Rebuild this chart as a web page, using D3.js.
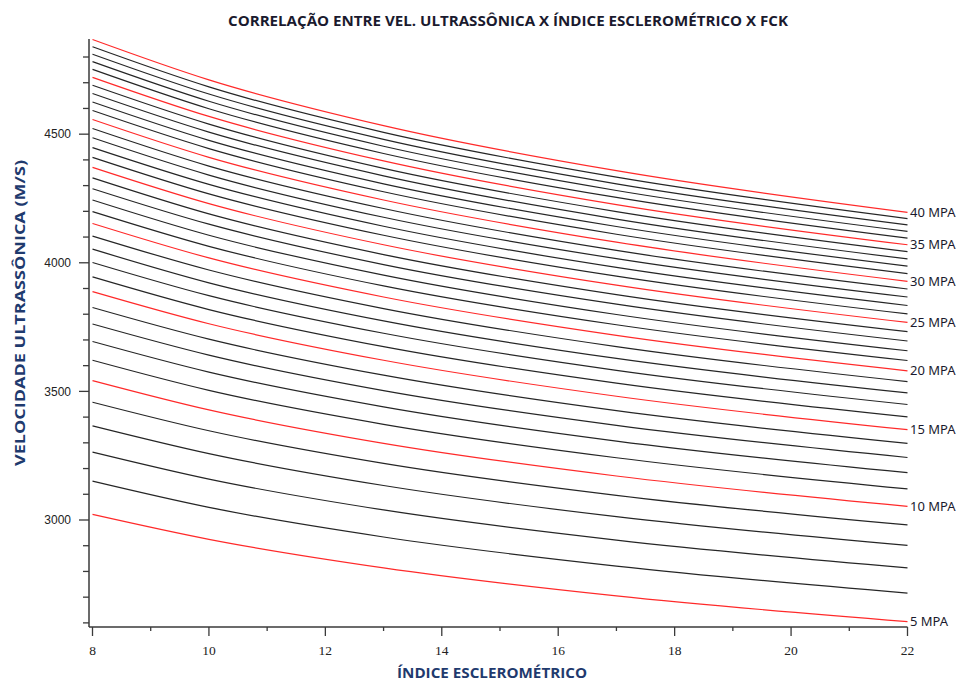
<!DOCTYPE html>
<html>
<head>
<meta charset="utf-8">
<script src="https://cdn.jsdelivr.net/npm/d3@7"></script>
<style>
  body { margin: 0; background: #fff; }
  svg { display: block; }
</style>
</head>
<body>
<div id="chart"></div>
<script>
// fck (MPa) de cada curva
const fck = [5, 6, 7, 8, 9, 10, 11, 12, 13, 14, 15, 16, 17, 18, 19, 20, 21, 22,
             23, 24, 25, 26, 27, 28, 29, 30, 31, 32, 33, 34, 35, 36, 37, 38, 39, 40];

// indice esclerometrico onde as velocidades foram lidas
const indice = [8, 10, 13, 17, 22];

// velocidade ultrassonica (m/s), uma linha por fck, uma coluna por indice
const velocidade = [
  [3022, 2925, 2814, 2705, 2605],
  [3151, 3049, 2934, 2821, 2716],
  [3264, 3159, 3039, 2922, 2814],
  [3366, 3258, 3134, 3013, 2901],
  [3458, 3347, 3220, 3096, 2981],
  [3542, 3428, 3298, 3171, 3053],
  [3621, 3504, 3372, 3242, 3121],
  [3694, 3575, 3440, 3307, 3184],
  [3762, 3641, 3503, 3368, 3243],
  [3826, 3703, 3563, 3425, 3298],
  [3888, 3763, 3621, 3481, 3351],
  [3945, 3818, 3674, 3532, 3401],
  [4001, 3872, 3726, 3582, 3449],
  [4053, 3922, 3774, 3628, 3494],
  [4104, 3972, 3822, 3674, 3538],
  [4153, 4019, 3867, 3718, 3580],
  [4199, 4064, 3910, 3759, 3620],
  [4244, 4107, 3952, 3799, 3658],
  [4288, 4150, 3993, 3839, 3696],
  [4330, 4190, 4032, 3876, 3732],
  [4371, 4230, 4070, 3913, 3768],
  [4410, 4268, 4107, 3948, 3801],
  [4448, 4305, 4142, 3982, 3834],
  [4486, 4341, 4177, 4016, 3867],
  [4522, 4376, 4211, 4048, 3898],
  [4557, 4410, 4244, 4080, 3928],
  [4592, 4444, 4276, 4111, 3958],
  [4625, 4476, 4307, 4141, 3987],
  [4658, 4508, 4338, 4170, 4015],
  [4690, 4539, 4367, 4199, 4043],
  [4721, 4569, 4396, 4226, 4070],
  [4752, 4599, 4425, 4254, 4096],
  [4782, 4628, 4453, 4281, 4122],
  [4811, 4656, 4480, 4307, 4147],
  [4840, 4684, 4507, 4333, 4172],
  [4868, 4711, 4533, 4358, 4196]
];

const xTicks = [8, 10, 12, 14, 16, 18, 20, 22];
const xMinor = [9, 11, 13, 15, 17, 19, 21];
const yTicks = [3000, 3500, 4000, 4500];
const yMinor = [2600, 2700, 2800, 2900, 3100, 3200, 3300, 3400, 3600, 3700, 3800, 3900,
                4100, 4200, 4300, 4400, 4600, 4700, 4800];

const width = 961;
const height = 681;
const plotLeft = 89, plotRight = 907.5, plotTop = 39, plotBottom = 627;

const x = d3.scaleLinear().domain([8, 22]).range([92.5, 907.5]);
const y = d3.scaleLinear().domain([2584, 4870]).range([plotBottom, plotTop]);

const svg = d3.select('#chart')
  .append('svg')
  .attr('width', width)
  .attr('height', height);

svg.append('rect').attr('width', width).attr('height', height).attr('fill', '#fff');

// curvas
const line = d3.line()
  .x((d, i) => x(indice[i]))
  .y(d => y(d))
  .curve(d3.curveMonotoneX);

svg.append('g')
  .selectAll('path')
  .data(velocidade)
  .enter()
  .append('path')
  .attr('d', line)
  .attr('fill', 'none')
  .attr('stroke', (d, i) => fck[i] % 5 === 0 ? '#ff2a2a' : '#262626')
  .attr('stroke-width', 1.2);

// rotulos a direita
svg.append('g')
  .selectAll('text')
  .data(fck.filter(f => f % 5 === 0))
  .enter()
  .append('text')
  .attr('x', 910)
  .attr('y', f => y(velocidade[fck.indexOf(f)][indice.length - 1]))
  .attr('dy', '0.36em')
  .style('font-family', '"Noto Sans", sans-serif')
  .style('font-size', '13px')
  .attr('fill', '#1a1a2e')
  .text(f => f + ' MPA');

// eixo y
const axisColor = '#3a3a3a';
const gy = svg.append('g');
gy.append('line')
  .attr('x1', plotLeft).attr('x2', plotLeft)
  .attr('y1', plotTop).attr('y2', plotBottom)
  .attr('stroke', axisColor).attr('stroke-width', 1.5);
gy.selectAll('.major')
  .data(yTicks)
  .enter().append('line')
  .attr('x1', plotLeft - 10).attr('x2', plotLeft)
  .attr('y1', d => y(d)).attr('y2', d => y(d))
  .attr('stroke', axisColor).attr('stroke-width', 1.3);
gy.selectAll('.minor')
  .data(yMinor)
  .enter().append('line')
  .attr('x1', plotLeft - 6).attr('x2', plotLeft)
  .attr('y1', d => y(d)).attr('y2', d => y(d))
  .attr('stroke', axisColor).attr('stroke-width', 1.3);
gy.selectAll('text')
  .data(yTicks)
  .enter().append('text')
  .attr('x', 71)
  .attr('y', d => y(d))
  .attr('dy', '0.35em')
  .attr('text-anchor', 'end')
  .style('font-family', '"Liberation Sans", sans-serif')
  .style('font-size', '12px')
  .attr('fill', '#222')
  .text(d => d);

// eixo x
const gx = svg.append('g');
gx.append('line')
  .attr('x1', plotLeft).attr('x2', plotRight)
  .attr('y1', plotBottom).attr('y2', plotBottom)
  .attr('stroke', axisColor).attr('stroke-width', 1.5);
gx.selectAll('.major')
  .data(xTicks)
  .enter().append('line')
  .attr('x1', d => x(d)).attr('x2', d => x(d))
  .attr('y1', plotBottom).attr('y2', plotBottom + 9)
  .attr('stroke', axisColor).attr('stroke-width', 1.3);
gx.selectAll('.minor')
  .data(xMinor)
  .enter().append('line')
  .attr('x1', d => x(d)).attr('x2', d => x(d))
  .attr('y1', plotBottom).attr('y2', plotBottom + 4)
  .attr('stroke', axisColor).attr('stroke-width', 1.3);
gx.selectAll('text')
  .data(xTicks)
  .enter().append('text')
  .attr('x', d => x(d))
  .attr('y', 655)
  .attr('text-anchor', 'middle')
  .style('font-family', '"Liberation Serif", serif')
  .style('font-size', '13.5px')
  .attr('fill', '#222')
  .text(d => d);

// titulos
svg.append('text')
  .attr('x', 508).attr('y', 26)
  .attr('text-anchor', 'middle')
  .attr('textLength', 560)
  .attr('lengthAdjust', 'spacingAndGlyphs')
  .style('font-family', '"Open Sans", sans-serif')
  .style('font-weight', 'bold')
  .style('font-size', '14px')
  .attr('fill', '#1a1a2e')
  .text('CORRELAÇÃO ENTRE VEL. ULTRASSÔNICA X ÍNDICE ESCLEROMÉTRICO X FCK');

svg.append('text')
  .attr('x', 492).attr('y', 678)
  .attr('text-anchor', 'middle')
  .attr('textLength', 190)
  .attr('lengthAdjust', 'spacingAndGlyphs')
  .style('font-family', '"Open Sans", sans-serif')
  .style('font-weight', 'bold')
  .style('font-size', '14px')
  .attr('fill', '#1f3a6e')
  .text('ÍNDICE ESCLEROMÉTRICO');

svg.append('text')
  .attr('transform', 'translate(25,313) rotate(-90)')
  .attr('text-anchor', 'middle')
  .attr('textLength', 306)
  .attr('lengthAdjust', 'spacingAndGlyphs')
  .style('font-family', '"Open Sans", sans-serif')
  .style('font-weight', 'bold')
  .style('font-size', '14px')
  .attr('fill', '#1f3a6e')
  .text('VELOCIDADE ULTRASSÔNICA (M/S)');
</script>
</body>
</html>
